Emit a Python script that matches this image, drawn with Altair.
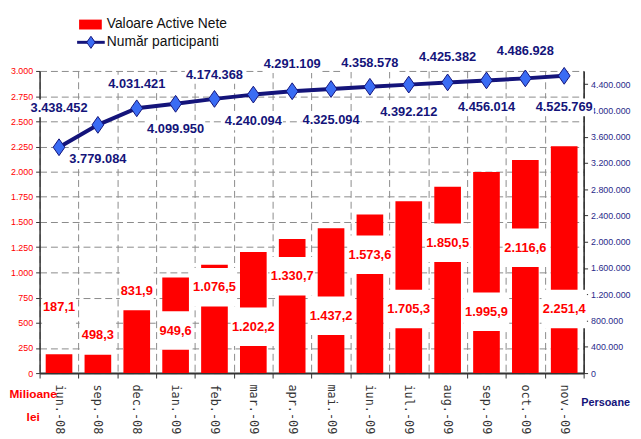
import altair as alt
import pandas as pd

months = ["iun.-08", "sep.-08", "dec.-08", "ian.-09", "feb.-09", "mar.-09", "apr.-09",
          "mai.-09", "iun.-09", "iul.-09", "aug.-09", "sep.-09", "oct.-09", "nov.-09"]
net_assets = [187.1, 498.3, 831.9, 949.6, 1076.5, 1202.2, 1330.7,
              1437.2, 1573.6, 1705.3, 1850.5, 1995.9, 2116.6, 2251.4]
participants = [3438452, 3779084, 4031421, 4099950, 4174368, 4240094, 4291109,
                4325094, 4358578, 4392212, 4425382, 4456014, 4486928, 4525769]
# level (in Milioane lei) at which each bar value label sits
asset_label_level = [657, 373, 814, 422, 853, 461, 961, 569, 1176, 637, 1294, 608, 1245, 637]
# level (in persons) at which each participant label sits
participant_label_level = [4030000, 3262000, 4405000, 3713000, 4540000, 3833000, 4705000,
                           3848000, 4720000, 3969000, 4810000, 4044000, 4900000, 4044000]

df = pd.DataFrame({
    "month": months,
    "assets": net_assets,
    "participants": participants,
    "asset_label_y": asset_label_level,
    "part_label_y": participant_label_level,
})
df["box"] = ["short" if v < 1000 else "long" for v in net_assets]

FONT = "Liberation Sans, Arial, sans-serif"
RED = "#ff0000"
NAVY = "#14147a"
BLUE = "#3a6cf4"
W, H = 551, 306
L_MAX, R_MAX = 3000, 4600000

x_axis = alt.Axis(labelAngle=90, tickBand="extent", grid=True,
                  gridDash=[7, 4], gridColor="#8a8a8a", gridWidth=1,
                  labelFont="DejaVu Sans Mono", labelFontSize=12,
                  labelColor="#333333", labelPadding=6, tickSize=5,
                  tickColor="#333333", domainColor="#333333",
                  domainWidth=2, title=None)
x_enc = alt.X("month:N", sort=months, title=None,
              scale=alt.Scale(paddingInner=0, paddingOuter=0), axis=x_axis)

lscale = alt.Scale(domain=[0, L_MAX])
rscale = alt.Scale(domain=[0, R_MAX], clamp=False)

left_axis = alt.Axis(values=list(range(0, 3001, 250)), format=",.0f", grid=True,
                     gridDash=[7, 4], gridColor="#8a8a8a", gridWidth=1,
                     labelFont=FONT, labelFontSize=9, labelColor=RED,
                     tickSize=4, tickColor="#333333", domainColor="#333333",
                     domainWidth=1.5, labelPadding=3,
                     title=["Milioane", "lei"], titleAngle=0, titleX=-7, titleY=322,
                     titleAlign="center", titleBaseline="top", titleColor=RED,
                     titleFont=FONT, titleFontSize=12, titleFontWeight="bold",
                     titleLineHeight=23)
right_axis = alt.Axis(orient="right", values=list(range(0, 4400001, 400000)),
                      format=",.0f", grid=False, labelFont=FONT, labelFontSize=9,
                      labelColor="#2a2a8a", tickSize=4, tickColor="#333333",
                      domainColor="#222222", domainWidth=1.5, labelPadding=3,
                      zindex=0,
                      title="Persoane", titleAngle=0, titleX=-3, titleY=330,
                      titleAlign="left", titleBaseline="top", titleColor=NAVY,
                      titleFont=FONT, titleFontSize=11, titleFontWeight="bold")


def yl(field):
    return alt.Y(field, scale=lscale, axis=left_axis, title=["Milioane", "lei"])


def yr(field):
    return alt.Y(field, scale=rscale, axis=right_axis, title="Persoane")


base = alt.Chart(df)

bars = base.mark_bar(size=27, color=RED).encode(x=x_enc, y=yl("assets:Q"))
bar_boxes = base.mark_point(filled=True, color="white", opacity=1, size=1936,
                            strokeWidth=0).encode(
    x=x_enc,
    y=yl("asset_label_y:Q"),
    shape=alt.Shape("box:N", legend=None, scale=alt.Scale(
        domain=["short", "long"],
        range=["M-0.78,-0.886L0.78,-0.886L0.78,0.886L-0.78,0.886Z",
               "M-1.045,-0.886L1.045,-0.886L1.045,0.886L-1.045,0.886Z"])),
)
bar_labels = base.mark_text(font=FONT, fontSize=13, fontWeight="bold",
                            color=RED, baseline="middle").encode(
    x=x_enc,
    y=yl("asset_label_y:Q"),
    text=alt.Text("assets:Q", format=",.1f"),
)
left_group = alt.layer(bars, bar_boxes, bar_labels)

line = base.mark_line(color=NAVY, strokeWidth=4).encode(x=x_enc, y=yr("participants:Q"))
points = base.mark_point(filled=True, fill=BLUE, stroke=NAVY, strokeWidth=1,
                         opacity=1, size=289,
                         shape="M0,-1L0.7,0L0,1L-0.7,0Z").encode(
    x=x_enc, y=yr("participants:Q"))
p_boxes = base.mark_point(filled=True, color="white", opacity=1, size=3600,
                          strokeWidth=0,
                          shape="M-1,-0.3L1,-0.3L1,0.3L-1,0.3Z").encode(
    x=x_enc, y=yr("part_label_y:Q"))
p_labels = base.mark_text(font=FONT, fontSize=13, fontWeight="bold",
                          color=NAVY, baseline="middle").encode(
    x=x_enc,
    y=yr("part_label_y:Q"),
    text=alt.Text("participants:Q", format=","),
)
right_group = alt.layer(p_boxes, line, points, p_labels)

# legend
leg = alt.Chart(pd.DataFrame({"k": [0]}))
leg_rect = leg.mark_rect(color=RED).encode(
    x=alt.value(40), x2=alt.value(63), y=alt.value(-52), y2=alt.value(-42))
leg_t1 = leg.mark_text(text="Valoare Active Nete", font=FONT, fontSize=14,
                       color="#111111", align="left", baseline="middle").encode(
    x=alt.value(68), y=alt.value(-47))
leg_line = leg.mark_rule(color=NAVY, strokeWidth=3).encode(
    x=alt.value(38), x2=alt.value(66), y=alt.value(-29))
leg_pt = leg.mark_point(filled=True, fill=BLUE, stroke=NAVY, strokeWidth=1,
                        opacity=1, size=150, shape="M0,-1L0.7,0L0,1L-0.7,0Z").encode(
    x=alt.value(52), y=alt.value(-29))
leg_t2 = leg.mark_text(text="Număr participanti", font=FONT, fontSize=14,
                       color="#111111", align="left", baseline="middle").encode(
    x=alt.value(68), y=alt.value(-29))
legend = alt.layer(leg_rect, leg_t1, leg_line, leg_pt, leg_t2)

chart = alt.layer(left_group, right_group, legend).resolve_scale(
    y="independent"
).properties(
    width=W, height=H,
    autosize=alt.AutoSizeParams(type="none"),
    padding={"left": 32, "top": 61, "right": 50, "bottom": 64},
).configure(
    locale={"number": {"decimal": ",", "thousands": ".", "grouping": [3],
                       "currency": ["", ""]}}
).configure_view(strokeWidth=0)

chart.save("out.html", embed_options={"renderer": "svg", "actions": False})
